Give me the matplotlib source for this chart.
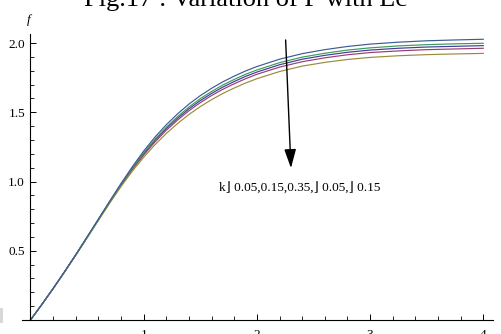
import matplotlib
matplotlib.use("Agg")
import matplotlib.pyplot as plt
from matplotlib.ticker import MultipleLocator
from matplotlib.patches import Rectangle

# similarity variable and velocity-profile values f(eta) for five parameter sets
eta = [0.0, 0.1, 0.2, 0.3, 0.4, 0.5, 0.6, 0.7, 0.8, 0.9, 1.0, 1.1, 1.2, 1.3, 1.4,
       1.5, 1.6, 1.7, 1.8, 1.9, 2.0, 2.2, 2.4, 2.6, 2.8, 3.0, 3.25, 3.5, 3.75, 4.0]
f_case1 = [0.0, 0.112, 0.227, 0.347, 0.470, 0.597, 0.725, 0.852, 0.976, 1.093, 1.200,
           1.296, 1.382, 1.457, 1.525, 1.584, 1.636, 1.682, 1.722, 1.759, 1.790,
           1.843, 1.883, 1.911, 1.933, 1.949, 1.962, 1.971, 1.976, 1.981]
f_case2 = [0.0, 0.111, 0.227, 0.346, 0.469, 0.595, 0.723, 0.849, 0.972, 1.087, 1.191,
           1.286, 1.370, 1.444, 1.511, 1.569, 1.621, 1.666, 1.706, 1.742, 1.774,
           1.826, 1.865, 1.893, 1.915, 1.931, 1.943, 1.952, 1.957, 1.962]
f_case3 = [0.0, 0.111, 0.226, 0.345, 0.467, 0.593, 0.719, 0.844, 0.964, 1.075, 1.175,
           1.266, 1.347, 1.419, 1.484, 1.541, 1.591, 1.636, 1.675, 1.711, 1.742,
           1.794, 1.833, 1.860, 1.881, 1.896, 1.908, 1.916, 1.921, 1.925]
f_case4 = [0.0, 0.112, 0.227, 0.347, 0.471, 0.598, 0.726, 0.855, 0.980, 1.098, 1.207,
           1.306, 1.392, 1.469, 1.538, 1.598, 1.650, 1.697, 1.737, 1.774, 1.805,
           1.858, 1.898, 1.926, 1.949, 1.965, 1.979, 1.988, 1.994, 1.998]
f_case5 = [0.0, 0.112, 0.228, 0.348, 0.472, 0.600, 0.729, 0.859, 0.986, 1.107, 1.220,
           1.321, 1.410, 1.489, 1.559, 1.620, 1.673, 1.720, 1.761, 1.798, 1.830,
           1.883, 1.923, 1.952, 1.975, 1.992, 2.006, 2.016, 2.022, 2.027]

series = [f_case1, f_case2, f_case3, f_case4, f_case5]
colors = [(0.2472, 0.24, 0.6), (0.6, 0.24, 0.4429), (0.6, 0.547, 0.24),
          (0.24, 0.6, 0.337), (0.24, 0.353, 0.6)]

title = "Fig.17 : Variation of F with Lc"
note = "k\u230b 0.05,0.15,0.35,\u230b 0.05,\u230b 0.15"
x_ticks = [1, 2, 3, 4]
y_ticks = [0.5, 1.0, 1.5, 2.0]

W, H = 502, 334
fig = plt.figure(figsize=(W / 100, H / 100), dpi=100)
ax = fig.add_axes([22 / W, 14 / H, 471 / W, 286 / H])

serif = ["Liberation Serif", "DejaVu Serif"]

for vals, c in zip(series, colors):
    ax.plot(eta, vals, color=c, lw=0.85)

ax.set_xlim(-0.075, 4.086)
ax.set_ylim(0, 2.065)

for s in ("top", "right"):
    ax.spines[s].set_visible(False)
ax.spines["left"].set_position(("data", 0))
ax.spines["bottom"].set_position(("data", 0))
for s in ("left", "bottom"):
    ax.spines[s].set_linewidth(0.8)

ax.set_xticks(x_ticks)
ax.set_xticklabels([str(v) for v in x_ticks])
ax.set_yticks(y_ticks)
ax.set_yticklabels([f"{v:.1f}" for v in y_ticks])
ax.xaxis.set_minor_locator(MultipleLocator(0.2))
ax.yaxis.set_minor_locator(MultipleLocator(0.1))
ax.tick_params(which="major", direction="in", length=4.5, width=0.7, labelsize=9.5, colors="black")
ax.tick_params(which="minor", direction="in", length=2.7, width=0.6)
ax.tick_params(axis="x", which="major", pad=6.5)
ax.tick_params(axis="y", which="major", pad=4)
for lab in ax.get_xticklabels() + ax.get_yticklabels():
    lab.set_family(serif)

ax.annotate("", xy=(2.301, 1.097), xytext=(2.254, 2.022),
            arrowprops=dict(arrowstyle="-|>,head_length=1.15,head_width=0.36",
                            color="black", lw=1.0, shrinkA=0, shrinkB=0,
                            mutation_scale=10))
ax.text(2.38, 0.946, note, fontsize=9.5, family=serif, ha="center", va="center")

fig.text(29 / W, 1 - 20 / H, "f", fontsize=9.5, family=serif, style="italic",
         ha="center", va="center")
fig.text(246 / W, 1 - 6 / H, title, fontsize=19, family=serif,
         ha="center", va="baseline")
fig.patches.append(Rectangle((0, (H - 323) / H), 3 / W, 15 / H,
                             transform=fig.transFigure, color="#d8d8d8", lw=0))

fig.savefig("out.png", dpi=100)
